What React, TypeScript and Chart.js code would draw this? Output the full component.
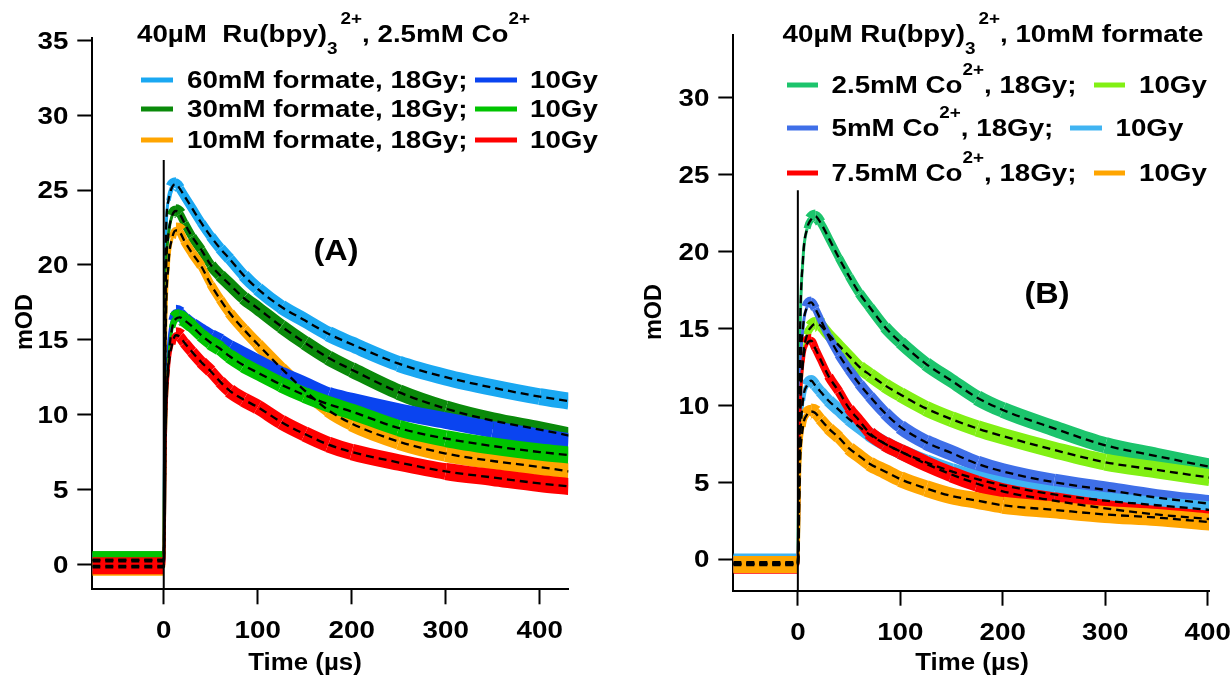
import React, { useEffect, useRef } from 'react';
import { Chart, registerables } from 'chart.js';

Chart.register(...registerables);

const FONT = '"Liberation Sans", Arial, Helvetica, sans-serif';
const FS = 23.5;
const SX = 1.18;

// ---------------- Panel A data (40µM Ru(bpy)3 2+, 2.5mM Co2+) ----------------
const timeA = [-76, -1, 0, 2, 5, 9, 13, 17, 22, 30, 40, 50, 60, 70, 85, 100, 125, 150, 175, 200, 250, 300, 350, 400, 431];
const a60mM18Gy = [0.2, 0.2, 0.2, 21.0, 24.3, 25.2, 25.4, 25.1, 24.6, 23.8, 22.8, 21.9, 21.1, 20.4, 19.3, 18.4, 17.2, 16.3, 15.4, 14.7, 13.4, 12.5, 11.8, 11.2, 10.9];
const a60mM10Gy = [0.1, 0.1, 0.1, 10.0, 14.5, 16.3, 16.8, 16.7, 16.4, 16.0, 15.6, 15.2, 14.9, 14.5, 14.0, 13.5, 12.7, 12.0, 11.3, 10.9, 10.2, 9.6, 9.0, 8.5, 8.2];
const a30mM18Gy = [0.3, 0.3, 0.3, 18.0, 22.0, 23.3, 23.6, 23.4, 22.8, 21.9, 21.0, 20.0, 19.3, 18.7, 17.8, 17.1, 15.9, 14.8, 13.8, 13.0, 11.5, 10.4, 9.6, 9.0, 8.6];
const a30mM10Gy = [0.3, 0.3, 0.3, 9.0, 13.5, 15.8, 16.4, 16.5, 16.3, 15.9, 15.3, 14.8, 14.4, 13.9, 13.3, 12.8, 12.0, 11.3, 10.7, 10.2, 9.1, 8.4, 7.9, 7.5, 7.3];
const a10mM18Gy = [-0.2, -0.2, -0.2, 15.0, 20.0, 21.8, 22.3, 22.2, 21.6, 20.8, 19.9, 18.7, 17.7, 16.8, 15.7, 14.7, 13.1, 11.6, 10.3, 9.4, 8.2, 7.4, 6.9, 6.5, 6.2];
const a10mM10Gy = [-0.1, -0.1, -0.1, 9.0, 13.0, 14.7, 15.3, 15.2, 14.8, 14.2, 13.5, 12.9, 12.2, 11.6, 11.0, 10.5, 9.5, 8.7, 8.0, 7.5, 6.8, 6.2, 5.8, 5.4, 5.2];
const xTicksA = [0, 100, 200, 300, 400];
const yTicksA = [0, 5, 10, 15, 20, 25, 30, 35];
const markerA = [-1.67, 27];

// ---------------- Panel B data (40µM Ru(bpy)3 2+, 10mM formate) ----------------
const timeB = [-63, -1, 0, 2, 5, 9, 13, 17, 22, 30, 40, 50, 60, 70, 85, 100, 125, 150, 175, 200, 250, 300, 350, 402];
const b25mM18Gy = [-0.3, -0.3, -0.3, 14.0, 19.5, 21.5, 22.1, 22.3, 21.9, 20.9, 19.6, 18.4, 17.3, 16.4, 15.1, 14.1, 12.7, 11.6, 10.5, 9.7, 8.5, 7.4, 6.7, 6.0];
const b25mM10Gy = [-0.3, -0.3, -0.3, 9.0, 13.0, 14.6, 15.1, 15.3, 15.2, 14.6, 13.9, 13.2, 12.5, 12.0, 11.3, 10.7, 9.8, 9.1, 8.5, 8.0, 7.1, 6.3, 5.8, 5.3];
const b5mM18Gy = [-0.3, -0.3, -0.3, 11.0, 15.0, 16.4, 16.7, 16.3, 15.6, 14.5, 13.3, 12.3, 11.4, 10.6, 9.5, 8.6, 7.6, 6.9, 6.2, 5.7, 5.0, 4.5, 4.0, 3.6];
const b5mM10Gy = [-0.2, -0.2, -0.2, 7.0, 10.3, 11.3, 11.6, 11.3, 10.9, 10.3, 9.7, 9.1, 8.6, 8.1, 7.5, 7.0, 6.3, 5.7, 5.2, 4.8, 4.2, 3.8, 3.5, 3.2];
const b75mM18Gy = [-0.4, -0.4, -0.4, 9.0, 12.8, 14.0, 14.2, 13.7, 13.0, 11.9, 10.9, 9.8, 9.0, 8.2, 7.5, 7.0, 6.2, 5.5, 4.9, 4.4, 3.8, 3.3, 2.9, 2.6];
const b75mM10Gy = [-0.35, -0.35, -0.35, 6.0, 8.6, 9.4, 9.6, 9.5, 9.1, 8.5, 7.9, 7.2, 6.7, 6.2, 5.7, 5.2, 4.6, 4.1, 3.8, 3.5, 3.2, 2.9, 2.7, 2.4];
const xTicksB = [0, 100, 200, 300, 400];
const yTicksB = [0, 5, 10, 15, 20, 25, 30];
const markerB = [-2.06, 24];

type Piece = { t: string; k?: 'sup' | 'sub' };
type Series = { label: string; values: number[]; color: string; fit: boolean; order: number };

function drawPieces(ctx: CanvasRenderingContext2D, x: number, base: number, pieces: Piece[], size: number, sx: number) {
  let cx = x;
  for (const p of pieces) {
    const small = !!p.k;
    const fs = small ? 16 : size;
    const dy = p.k === 'sup' ? -18 : p.k === 'sub' ? 12 : 0;
    ctx.font = `bold ${fs}px ${FONT}`;
    ctx.save();
    ctx.translate(cx, base + dy);
    ctx.scale(sx, 1);
    ctx.textAlign = 'left';
    ctx.textBaseline = 'alphabetic';
    ctx.fillStyle = '#000';
    ctx.fillText(p.t, 0, 0);
    ctx.restore();
    cx += ctx.measureText(p.t).width * sx + (p.k === 'sub' ? 3 : 0);
  }
  return cx;
}

function drawText(ctx: CanvasRenderingContext2D, text: string, x: number, y: number, size: number, align: CanvasTextAlign, sx: number, rotate = false) {
  ctx.save();
  ctx.font = `bold ${size}px ${FONT}`;
  ctx.fillStyle = '#000';
  ctx.textAlign = align;
  ctx.textBaseline = 'alphabetic';
  ctx.translate(x, y);
  if (rotate) ctx.rotate(-Math.PI / 2);
  ctx.scale(sx, 1);
  ctx.fillText(text, 0, 0);
  ctx.restore();
}

type LegendRow = { y: number; color1: string; line1: [number, number]; text1x: number; text1: Piece[]; color2: string; line2: [number, number]; text2x: number; text2: string };

type Spec = {
  time: number[];
  series: Series[];
  marker: number[];
  xTicks: number[];
  yTicks: number[];
  xMin: number; xMax: number; yMin: number; yMax: number;
  padding: { left: number; right: number; top: number; bottom: number };
  title: Piece[]; titleX: number; titleBase: number;
  rows: LegendRow[];
  tag: string; tagX: number; tagBase: number;
  yTitleX: number; yTitleY: number;
  xTitleX: number; xTitleBase: number;
};

const specA: Spec = {
  time: timeA,
  series: [
    { label: '60mM formate, 18Gy', values: a60mM18Gy, color: '#1aa8f2', fit: true, order: 7 },
    { label: '60mM formate, 10Gy', values: a60mM10Gy, color: '#0a44f0', fit: false, order: 4 },
    { label: '30mM formate, 18Gy', values: a30mM18Gy, color: '#0a8a0a', fit: true, order: 6 },
    { label: '30mM formate, 10Gy', values: a30mM10Gy, color: '#00c400', fit: true, order: 3 },
    { label: '10mM formate, 18Gy', values: a10mM18Gy, color: '#ffa500', fit: true, order: 5 },
    { label: '10mM formate, 10Gy', values: a10mM10Gy, color: '#ff0000', fit: true, order: 2 },
  ],
  marker: markerA,
  xTicks: xTicksA,
  yTicks: yTicksA,
  xMin: -76, xMax: 430.4, yMin: -1.67, yMax: 35.19,
  padding: { left: 77.3, right: 662.7, top: 37.5, bottom: 73.7 },
  title: [{ t: '40µM  Ru(bpy)' }, { t: '3', k: 'sub' }, { t: '2+', k: 'sup' }, { t: ', 2.5mM Co' }, { t: '2+', k: 'sup' }],
  titleX: 137, titleBase: 42,
  rows: [
    { y: 80, color1: '#1aa8f2', line1: [141, 173], text1x: 187, text1: [{ t: '60mM formate, 18Gy;' }], color2: '#0a44f0', line2: [475, 517], text2x: 530, text2: '10Gy' },
    { y: 109, color1: '#0a8a0a', line1: [141, 173], text1x: 187, text1: [{ t: '30mM formate, 18Gy;' }], color2: '#00c400', line2: [475, 517], text2x: 530, text2: '10Gy' },
    { y: 140, color1: '#ffa500', line1: [141, 173], text1x: 187, text1: [{ t: '10mM formate, 18Gy;' }], color2: '#ff0000', line2: [475, 517], text2x: 530, text2: '10Gy' },
  ],
  tag: '(A)', tagX: 336, tagBase: 260,
  yTitleX: 24, yTitleY: 322,
  xTitleX: 305, xTitleBase: 670,
};

const specB: Spec = {
  time: timeB,
  series: [
    { label: '2.5mM Co2+, 18Gy', values: b25mM18Gy, color: '#1cc46c', fit: true, order: 7 },
    { label: '2.5mM Co2+, 10Gy', values: b25mM10Gy, color: '#82f014', fit: true, order: 6 },
    { label: '5mM Co2+, 18Gy', values: b5mM18Gy, color: '#3f6fe8', fit: true, order: 5 },
    { label: '5mM Co2+, 10Gy', values: b5mM10Gy, color: '#40b4f2', fit: true, order: 4 },
    { label: '7.5mM Co2+, 18Gy', values: b75mM18Gy, color: '#ff0000', fit: true, order: 3 },
    { label: '7.5mM Co2+, 10Gy', values: b75mM10Gy, color: '#ffa500', fit: true, order: 2 },
  ],
  marker: markerB,
  xTicks: xTicksB,
  yTicks: yTicksB,
  xMin: -63, xMax: 401.3, yMin: -2.06, yMax: 34.1,
  padding: { left: 718.3, right: 22, top: 34.9, bottom: 72.3 },
  title: [{ t: '40µM Ru(bpy)' }, { t: '3', k: 'sub' }, { t: '2+', k: 'sup' }, { t: ', 10mM formate' }],
  titleX: 782.6, titleBase: 42,
  rows: [
    { y: 85, color1: '#1cc46c', line1: [787, 818], text1x: 831.5, text1: [{ t: '2.5mM Co' }, { t: '2+', k: 'sup' }, { t: ', 18Gy;' }], color2: '#82f014', line2: [1094, 1125], text2x: 1139, text2: '10Gy' },
    { y: 128, color1: '#3f6fe8', line1: [787, 818], text1x: 831.5, text1: [{ t: '5mM Co' }, { t: '2+', k: 'sup' }, { t: ', 18Gy;' }], color2: '#40b4f2', line2: [1070, 1102], text2x: 1115.5, text2: '10Gy' },
    { y: 173, color1: '#ff0000', line1: [787, 818], text1x: 831.5, text1: [{ t: '7.5mM Co' }, { t: '2+', k: 'sup' }, { t: ', 18Gy;' }], color2: '#ffa500', line2: [1094, 1125], text2x: 1139, text2: '10Gy' },
  ],
  tag: '(B)', tagX: 1047, tagBase: 302.5,
  yTitleX: 653, yTitleY: 312,
  xTitleX: 972, xTitleBase: 670,
};

const BAND = 17;

function makeConfig(spec: Spec): any {
  const datasets: any[] = [];
  spec.series.forEach((s) => {
    datasets.push({
      type: 'line',
      label: s.label,
      data: spec.time.map((t, i) => ({ x: t, y: s.values[i] })),
      borderColor: s.color,
      borderWidth: BAND,
      pointRadius: 0,
      fill: false,
      cubicInterpolationMode: 'monotone',
      borderJoinStyle: 'round',
      borderCapStyle: 'butt',
      clip: 0,
      order: s.order,
      segment: {
        borderWidth: (ctx: any) => {
          const dx = ctx.p1.x - ctx.p0.x;
          const dy = ctx.p1.y - ctx.p0.y;
          const len = Math.hypot(dx, dy) || 1;
          return Math.max(3, Math.round((BAND * Math.abs(dx)) / len * 2) / 2);
        },
      },
    });
  });
  spec.series.forEach((s) => {
    if (!s.fit) return;
    datasets.push({
      type: 'line',
      label: s.label + ' fit',
      data: spec.time.map((t, i) => ({ x: t, y: s.values[i] })),
      borderColor: '#000',
      borderWidth: 2.3,
      borderDash: [8, 5],
      pointRadius: 0,
      fill: false,
      cubicInterpolationMode: 'monotone',
      clip: 0,
      order: 1,
    });
  });
  datasets.push({
    type: 'line',
    label: 'marker',
    data: spec.marker.map((v) => ({ x: 0, y: v })),
    borderColor: '#000',
    borderWidth: 2,
    pointRadius: 0,
    fill: false,
    clip: 0,
    order: 0,
  });

  const textPlugin = {
    id: 'panelText',
    afterDraw(chart: any) {
      const ctx: CanvasRenderingContext2D = chart.ctx;
      const area = chart.chartArea;
      const xs = chart.scales.x;
      const ys = chart.scales.y;
      ctx.save();
      for (const t of xs.ticks) {
        const px = xs.getPixelForValue(t.value);
        drawText(ctx, String(t.value), px, area.bottom + 49, FS, 'center', SX);
      }
      for (const t of ys.ticks) {
        const py = ys.getPixelForValue(t.value);
        drawText(ctx, String(t.value), area.left - 24, py + 8.4, FS, 'right', SX);
      }
      drawText(ctx, 'mOD', spec.yTitleX + 8.4, spec.yTitleY, FS, 'center', 1, true);
      drawText(ctx, 'Time (µs)', spec.xTitleX, spec.xTitleBase, FS, 'center', 1.1);
      drawText(ctx, spec.tag, spec.tagX, spec.tagBase, 30, 'center', 1.08);
      drawPieces(ctx, spec.titleX, spec.titleBase, spec.title, FS, SX);
      for (const r of spec.rows) {
        ctx.lineWidth = 5;
        ctx.lineCap = 'butt';
        ctx.strokeStyle = r.color1;
        ctx.beginPath();
        ctx.moveTo(r.line1[0], r.y);
        ctx.lineTo(r.line1[1], r.y);
        ctx.stroke();
        drawPieces(ctx, r.text1x, r.y + 8.4, r.text1, FS, SX);
        ctx.strokeStyle = r.color2;
        ctx.beginPath();
        ctx.moveTo(r.line2[0], r.y);
        ctx.lineTo(r.line2[1], r.y);
        ctx.stroke();
        drawPieces(ctx, r.text2x, r.y + 8.4, [{ t: r.text2 }], FS, SX);
      }
      ctx.restore();
    },
  };

  const axisCommon = {
    type: 'linear',
    ticks: { display: false },
    grid: { display: true, drawOnChartArea: false, drawTicks: true, tickLength: 15, tickWidth: 2, tickColor: '#000', color: '#000' },
    border: { display: true, color: '#000', width: 2 },
  };

  return {
    type: 'line',
    data: { datasets },
    options: {
      responsive: false,
      animation: false,
      devicePixelRatio: 1,
      events: [],
      layout: { padding: spec.padding },
      plugins: { legend: { display: false }, tooltip: { enabled: false } },
      scales: {
        x: {
          ...axisCommon,
          position: 'bottom',
          min: spec.xMin,
          max: spec.xMax,
          afterBuildTicks: (s: any) => { s.ticks = spec.xTicks.map((v) => ({ value: v })); },
          afterFit: (s: any) => { s.height = 15; },
        },
        y: {
          ...axisCommon,
          position: 'left',
          min: spec.yMin,
          max: spec.yMax,
          afterBuildTicks: (s: any) => { s.ticks = spec.yTicks.map((v) => ({ value: v })); },
          afterFit: (s: any) => { s.width = 15; },
        },
      },
    },
    plugins: [textPlugin],
  };
}

function Panel({ spec }: { spec: Spec }) {
  const ref = useRef<HTMLCanvasElement>(null);
  useEffect(() => {
    const chart = new Chart(ref.current as HTMLCanvasElement, makeConfig(spec));
    return () => chart.destroy();
  }, [spec]);
  return (
    <canvas
      ref={ref}
      width={1231}
      height={678}
      style={{ position: 'absolute', left: 0, top: 0, width: 1231, height: 678 }}
    />
  );
}

export default function App() {
  return (
    <div style={{ position: 'absolute', left: 0, top: 0, width: 1231, height: 678, background: '#fff', overflow: 'hidden' }}>
      <Panel spec={specA} />
      <Panel spec={specB} />
    </div>
  );
}
